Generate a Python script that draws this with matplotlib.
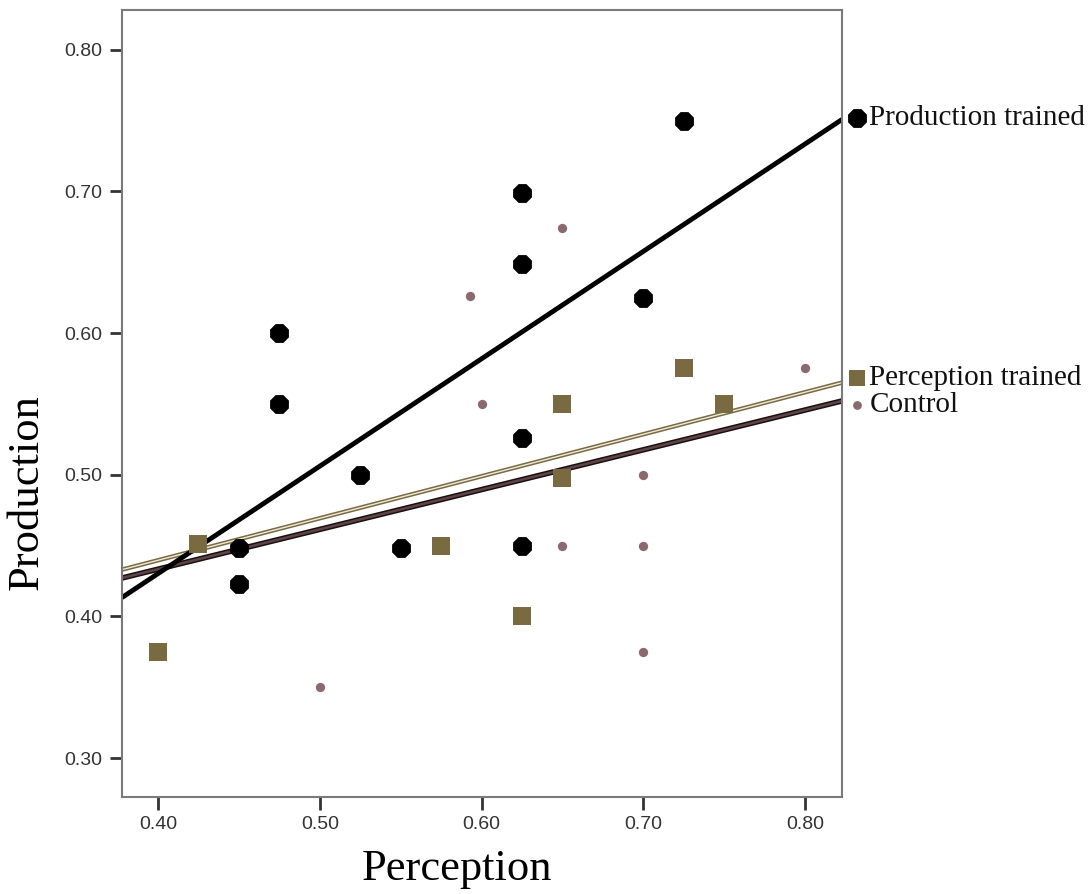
import matplotlib
matplotlib.use("Agg")
import matplotlib.pyplot as plt
import matplotlib.transforms as mtransforms
import numpy as np

# ---- data ----
prod_x = [0.45, 0.45, 0.475, 0.475, 0.525, 0.55, 0.625, 0.625, 0.625, 0.625, 0.70, 0.725]
prod_y = [0.448, 0.423, 0.60, 0.55, 0.50, 0.448, 0.699, 0.649, 0.526, 0.45, 0.625, 0.75]

perc_x = [0.40, 0.425, 0.575, 0.625, 0.65, 0.65, 0.725, 0.75]
perc_y = [0.375, 0.451, 0.45, 0.40, 0.55, 0.498, 0.575, 0.55]

ctrl_x = [0.50, 0.60, 0.593, 0.65, 0.65, 0.70, 0.70, 0.70, 0.80]
ctrl_y = [0.35, 0.55, 0.626, 0.674, 0.45, 0.50, 0.45, 0.375, 0.575]

# fit lines (slope, intercept)
prod_fit = (0.758, 0.127)
perc_fit = (0.2965, 0.321)
ctrl_fit = (0.2808, 0.321)

labels = ["Production trained", "Perception trained", "Control"]
xticks = [0.40, 0.50, 0.60, 0.70, 0.80]
yticks = [0.30, 0.40, 0.50, 0.60, 0.70, 0.80]
xlim = (0.3777, 0.8229)
ylim = (0.2725, 0.828)

# ---- colours ----
c_prod = "#000000"
c_perc = "#7a6a42"
c_ctrl = "#8a6a6e"

fig = plt.figure(figsize=(10.92, 8.94), dpi=100)
ax = fig.add_axes([0.1117, 0.1085, 0.6594, 0.8803])
ax.set_xlim(*xlim)
ax.set_ylim(*ylim)

xs = np.array(xlim)
# control line (dark with black edge)
ax.plot(xs, ctrl_fit[0] * xs + ctrl_fit[1], color="#1a1010", lw=4.0, solid_capstyle="butt", zorder=2)
ax.plot(xs, ctrl_fit[0] * xs + ctrl_fit[1], color="#5e4448", lw=1.8, solid_capstyle="butt", zorder=2.1)
# perception trained line
ax.plot(xs, perc_fit[0] * xs + perc_fit[1], color=c_perc, lw=3.2, solid_capstyle="butt", zorder=2.2)
ax.plot(xs, perc_fit[0] * xs + perc_fit[1], color="#eeeadc", lw=1.0, solid_capstyle="butt", zorder=2.3)
# production trained line
ax.plot(xs, prod_fit[0] * xs + prod_fit[1], color=c_prod, lw=3.5, solid_capstyle="butt", zorder=2.4)

ax.scatter(ctrl_x, ctrl_y, marker="o", s=45, color=c_ctrl, linewidths=0, zorder=3)
ax.scatter(perc_x, perc_y, marker="s", s=150, color=c_perc, linewidths=0, zorder=3)
ax.scatter(prod_x, prod_y, marker="8", s=215, color=c_prod, linewidths=0, zorder=3)

ax.set_xticks(xticks)
ax.set_yticks(yticks)
ax.set_xticklabels([f"{v:.2f}" for v in xticks])
ax.set_yticklabels([f"{v:.2f}" for v in yticks])
ax.tick_params(direction="out", length=9, width=2, color="#333333",
               labelsize=14, labelcolor="#333333", pad=5)
for lab in ax.get_xticklabels() + ax.get_yticklabels():
    lab.set_fontfamily("Liberation Sans")
for sp in ax.spines.values():
    sp.set_color("#7a7a7a")
    sp.set_linewidth(1.5)

ax.set_xlabel("Perception", fontfamily="Liberation Serif", fontsize=32)
ax.set_ylabel("Production", fontfamily="Liberation Serif", fontsize=32)
ax.xaxis.set_label_coords(0.465, -0.066)
ax.yaxis.set_label_coords(-0.104, 0.3875)

# end-of-line labels
trans = mtransforms.blended_transform_factory(ax.transAxes, ax.transData)
ends = [prod_fit[0] * xlim[1] + prod_fit[1] + 0.001,
        perc_fit[0] * xlim[1] + perc_fit[1] + 0.003,
        ctrl_fit[0] * xlim[1] + ctrl_fit[1] - 0.003]
markers = [("8", 215, c_prod), ("s", 120, c_perc), ("o", 40, c_ctrl)]
for lab, yv, (m, s, c) in zip(labels, ends, markers):
    ax.scatter([1.021], [yv], marker=m, s=s, color=c, linewidths=0,
               transform=trans, clip_on=False, zorder=4)
    ax.text(1.038, yv, lab, transform=trans, fontfamily="Liberation Serif",
            fontsize=21, va="center", ha="left", color="#111111")

fig.savefig("out.png", dpi=100, facecolor="white")
